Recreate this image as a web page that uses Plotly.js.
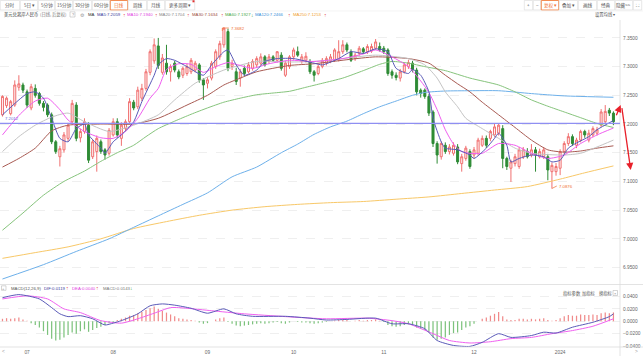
<!DOCTYPE html>
<html><head><meta charset="utf-8">
<script src="https://cdn.plot.ly/plotly-3.0.1.min.js"></script>
<style>html,body{margin:0;padding:0;background:#fff}#c{width:643px;height:356px}</style>
</head><body><div id="c"></div>
<script>
// ---- candle data (index 0..149) ----
const openP = [7.216,7.232,7.218,7.233,7.264,7.268,7.256,7.228,7.262,7.253,7.236,7.233,7.216,7.169,7.143,7.155,7.175,7.204,7.233,7.176,7.187,7.198,7.143,7.152,7.169,7.155,7.149,7.181,7.204,7.175,7.192,7.204,7.238,7.230,7.245,7.262,7.290,7.310,7.336,7.290,7.306,7.291,7.306,7.291,7.285,7.288,7.291,7.294,7.303,7.277,7.271,7.280,7.300,7.317,7.338,7.361,7.300,7.291,7.280,7.297,7.291,7.297,7.303,7.306,7.317,7.309,7.317,7.311,7.320,7.285,7.300,7.317,7.326,7.309,7.311,7.309,7.291,7.288,7.300,7.306,7.310,7.311,7.312,7.326,7.338,7.326,7.314,7.323,7.331,7.326,7.327,7.332,7.335,7.332,7.329,7.291,7.285,7.280,7.291,7.300,7.306,7.294,7.259,7.259,7.248,7.221,7.166,7.143,7.163,7.152,7.149,7.160,7.131,7.140,7.152,7.146,7.149,7.163,7.175,7.175,7.181,7.184,7.192,7.140,7.123,7.131,7.126,7.143,7.152,7.146,7.155,7.143,7.143,7.143,7.117,7.117,7.123,7.152,7.166,7.178,7.163,7.172,7.187,7.172,7.181,7.184,7.198,7.204,7.224,7.219];
const highP = [7.250,7.248,7.242,7.276,7.285,7.272,7.260,7.270,7.269,7.256,7.240,7.236,7.220,7.172,7.162,7.186,7.202,7.242,7.238,7.192,7.210,7.203,7.173,7.180,7.173,7.158,7.193,7.210,7.210,7.203,7.208,7.245,7.242,7.265,7.270,7.296,7.330,7.349,7.350,7.322,7.338,7.304,7.310,7.295,7.300,7.305,7.315,7.310,7.306,7.280,7.282,7.310,7.330,7.345,7.3682,7.366,7.312,7.298,7.296,7.302,7.308,7.313,7.318,7.323,7.320,7.322,7.320,7.327,7.325,7.310,7.320,7.333,7.335,7.322,7.325,7.313,7.294,7.304,7.315,7.318,7.322,7.332,7.346,7.346,7.342,7.330,7.324,7.336,7.334,7.339,7.340,7.348,7.342,7.336,7.332,7.295,7.290,7.296,7.307,7.312,7.310,7.298,7.262,7.262,7.252,7.224,7.170,7.170,7.168,7.165,7.168,7.165,7.148,7.162,7.156,7.160,7.176,7.180,7.180,7.190,7.200,7.201,7.198,7.143,7.138,7.148,7.160,7.160,7.158,7.165,7.160,7.157,7.160,7.148,7.133,7.132,7.156,7.170,7.184,7.182,7.176,7.190,7.190,7.190,7.196,7.195,7.226,7.233,7.228,7.222];
const lowP = [7.213,7.228,7.215,7.230,7.258,7.254,7.228,7.224,7.246,7.232,7.222,7.212,7.165,7.148,7.126,7.150,7.170,7.200,7.170,7.168,7.183,7.132,7.139,7.117,7.148,7.138,7.145,7.178,7.176,7.162,7.188,7.200,7.224,7.226,7.240,7.258,7.285,7.305,7.296,7.286,7.286,7.274,7.290,7.278,7.280,7.284,7.287,7.290,7.272,7.242,7.262,7.276,7.296,7.312,7.333,7.292,7.294,7.268,7.265,7.284,7.288,7.293,7.299,7.302,7.300,7.305,7.308,7.307,7.293,7.282,7.296,7.312,7.317,7.305,7.307,7.287,7.274,7.285,7.297,7.302,7.306,7.308,7.309,7.322,7.325,7.308,7.310,7.319,7.322,7.322,7.324,7.329,7.326,7.322,7.284,7.279,7.276,7.274,7.288,7.296,7.290,7.250,7.246,7.244,7.214,7.160,7.131,7.138,7.148,7.147,7.145,7.130,7.117,7.136,7.122,7.140,7.145,7.160,7.158,7.170,7.177,7.180,7.123,7.120,7.099,7.126,7.122,7.139,7.140,7.142,7.117,7.140,7.139,7.102,7.0876,7.110,7.111,7.148,7.162,7.162,7.158,7.168,7.176,7.168,7.177,7.180,7.195,7.200,7.214,7.198];
const closeP = [7.248,7.245,7.239,7.268,7.270,7.259,7.233,7.265,7.250,7.236,7.229,7.216,7.169,7.152,7.157,7.181,7.198,7.236,7.175,7.187,7.204,7.137,7.169,7.175,7.152,7.146,7.189,7.204,7.181,7.198,7.204,7.239,7.228,7.259,7.262,7.291,7.326,7.338,7.302,7.315,7.291,7.300,7.294,7.282,7.297,7.300,7.311,7.306,7.277,7.268,7.277,7.306,7.326,7.340,7.367,7.297,7.306,7.274,7.291,7.288,7.303,7.309,7.314,7.317,7.303,7.317,7.311,7.326,7.297,7.306,7.317,7.329,7.320,7.317,7.318,7.291,7.285,7.300,7.311,7.314,7.317,7.329,7.326,7.338,7.329,7.311,7.320,7.332,7.326,7.335,7.335,7.343,7.329,7.326,7.288,7.285,7.281,7.291,7.303,7.307,7.294,7.256,7.253,7.248,7.219,7.166,7.146,7.166,7.152,7.160,7.163,7.134,7.143,7.158,7.126,7.155,7.172,7.175,7.163,7.187,7.195,7.198,7.140,7.126,7.134,7.143,7.155,7.155,7.143,7.155,7.146,7.152,7.155,7.120,7.128,7.126,7.152,7.166,7.178,7.166,7.172,7.187,7.181,7.184,7.192,7.190,7.221,7.222,7.219,7.204];

// ---- moving averages (read at sample candles) ----
const ma5Idx = [0,4,6,8,10,12,14,16,18,20,21,24,25,27,29,32,34,37,38,40,42,45,49,51,54,55,57,59,62,64,67,71,76,78,82,85,88,91,94,96,99,100,102,104,105,107,108,111,114,115,118,120,121,123,124,126,129,132,134,136,138,140,143,145,149];
const ma5Val = [7.216,7.242,7.253,7.256,7.245,7.210,7.175,7.169,7.192,7.200,7.181,7.158,7.149,7.169,7.181,7.204,7.239,7.285,7.303,7.314,7.311,7.300,7.285,7.303,7.326,7.329,7.303,7.285,7.294,7.309,7.314,7.314,7.306,7.303,7.314,7.326,7.323,7.331,7.326,7.297,7.288,7.295,7.285,7.256,7.210,7.169,7.158,7.155,7.146,7.140,7.158,7.175,7.184,7.163,7.134,7.140,7.146,7.143,7.134,7.137,7.158,7.167,7.178,7.190,7.206];
const ma10Idx = [0,4,8,11,14,16,20,24,27,30,33,36,38,40,43,46,49,52,55,58,61,65,70,76,83,88,91,95,99,102,104,106,108,110,112,114,117,121,125,129,133,137,141,145,149];
const ma10Val = [7.181,7.215,7.240,7.245,7.225,7.207,7.187,7.176,7.175,7.187,7.210,7.245,7.262,7.295,7.305,7.304,7.290,7.300,7.307,7.302,7.297,7.305,7.311,7.309,7.314,7.322,7.329,7.317,7.300,7.275,7.255,7.225,7.190,7.165,7.152,7.149,7.149,7.166,7.163,7.149,7.140,7.146,7.166,7.181,7.193];
const ma20Idx = [0,4,8,12,16,20,26,32,38,42,47,54,62,70,76,83,91,99,103,106,108,111,113,117,121,125,129,137,141,145,149];
const ma20Val = [7.152,7.178,7.198,7.212,7.219,7.204,7.187,7.198,7.216,7.242,7.271,7.294,7.309,7.308,7.309,7.314,7.320,7.314,7.303,7.280,7.256,7.230,7.210,7.192,7.175,7.158,7.149,7.146,7.149,7.160,7.172];
const ma30Idx = [0,4,8,12,16,24,32,38,45,50,54,58,62,70,76,84,91,99,104,108,111,114,117,121,125,129,133,137,141,145,149];
const ma30Val = [7.125,7.140,7.158,7.188,7.198,7.200,7.200,7.210,7.233,7.250,7.268,7.280,7.291,7.302,7.305,7.312,7.317,7.314,7.306,7.285,7.270,7.256,7.238,7.216,7.194,7.172,7.155,7.151,7.153,7.158,7.162];
const ma60Idx = [0,5,10,15,20,24,28,32,35,38,42,46,50,54,58,62,66,70,74,78,83,88,92,95,99,103,108,114,121,125,129,133,137,141,145,149];
const ma60Val = [7.015,7.045,7.076,7.100,7.118,7.135,7.150,7.163,7.178,7.192,7.205,7.217,7.228,7.238,7.245,7.251,7.254,7.257,7.264,7.271,7.280,7.293,7.304,7.309,7.306,7.300,7.293,7.280,7.268,7.256,7.242,7.231,7.221,7.211,7.201,7.194];
const ma120Idx = [0,10,18,26,32,38,44,50,56,62,68,72,76,80,84,88,92,96,100,103,108,114,121,129,137,149];
const ma120Val = [6.930,6.955,6.978,7.000,7.020,7.040,7.060,7.080,7.108,7.125,7.150,7.165,7.182,7.195,7.205,7.218,7.230,7.240,7.250,7.255,7.2575,7.258,7.258,7.253,7.249,7.2466];
const ma250Idx = [0,8,16,24,32,40,48,56,64,72,80,88,96,104,112,120,128,136,142,149];
const ma250Val = [6.966,6.976,6.986,7.000,7.018,7.030,7.041,7.050,7.056,7.060,7.063,7.065,7.069,7.073,7.079,7.085,7.091,7.104,7.115,7.127];

// ---- MACD ----
const difIdx = [0,4,9,12,14,16,19,22,25,27,29,33,36,39,42,46,50,54,57,61,69,75,79,84,91,95,99,103,106,110,114,117,121,124,129,132,135,139,144,148,149];
const difVal = [0.038,0.043,0.036,0.022,0.012,0.0075,0.009,0.004,-0.006,-0.003,0.001,0.012,0.025,0.028,0.026,0.021,0.013,0.020,0.012,0.008,0.008,0.005,0.002,0.003,0.005,-0.004,-0.004,-0.012,-0.031,-0.039,-0.0405,-0.034,-0.020,-0.026,-0.023,-0.0176,-0.019,-0.0096,-0.0016,0.0075,0.0119];
const deaIdx = [0,6,11,15,19,24,29,33,37,41,45,51,59,69,79,89,95,99,105,109,114,119,124,129,134,139,144,149];
const deaVal = [0.036,0.041,0.036,0.020,0.014,0.001,-0.003,0.004,0.013,0.022,0.021,0.017,0.012,0.0075,0.004,0.005,0.001,-0.004,-0.020,-0.031,-0.035,-0.033,-0.028,-0.026,-0.020,-0.015,-0.008,0.004];
const macdHist = [0.004,0.005,0.004,0.005,0.006,0.003,0.001,-0.003,-0.006,-0.010,-0.016,-0.022,-0.028,-0.031,-0.030,-0.026,-0.022,-0.018,-0.020,-0.016,-0.013,-0.017,-0.014,-0.011,-0.009,-0.006,-0.003,-0.001,0.002,0.004,0.006,0.009,0.010,0.013,0.015,0.018,0.021,0.024,0.020,0.017,0.014,0.011,0.008,0.005,0.004,0.003,0.002,0.001,-0.002,-0.004,-0.003,0.000,0.003,0.005,0.006,-0.001,-0.004,-0.007,-0.008,-0.007,-0.006,-0.005,-0.004,-0.003,-0.004,-0.003,-0.002,-0.001,-0.003,-0.004,-0.002,0.000,-0.001,-0.002,-0.002,-0.003,-0.004,-0.003,-0.002,-0.001,0.000,0.001,0.002,0.003,0.002,0.000,0.001,0.002,0.001,0.002,0.002,0.003,0.001,-0.001,-0.006,-0.008,-0.009,-0.008,-0.006,-0.005,-0.005,-0.010,-0.012,-0.014,-0.018,-0.026,-0.030,-0.028,-0.026,-0.022,-0.019,-0.018,-0.014,-0.010,-0.008,-0.004,0.000,0.004,0.006,0.009,0.012,0.015,0.008,0.003,0.002,0.002,0.004,0.004,0.003,0.004,0.003,0.004,0.005,0.002,0.001,0.002,0.005,0.008,0.010,0.009,0.009,0.011,0.010,0.010,0.011,0.010,0.013,0.014,0.013,0.0143];

// ---- labels ----
const monthTickIdx = [6,27,50,71,93,115,136];
const monthTickText = ['07','08','09','10','11','12','2024'];
const priceTicks = [6.95,7.00,7.05,7.10,7.15,7.20,7.25,7.30,7.35];
const macdTicks = [-0.04,-0.02,0,0.02,0.04];
const refLineValue = 7.2012;
const highMark = {idx:54, text:'7.3682'};
const lowMark = {idx:134, text:'7.0876'};

const idx = closeP.map((_, i) => i);

// pixel helpers (plot area x 0..620, y 20..347)
const PW = 620, PH = 327, BOTTOM = 347;
const px = v => v / PW;
const py = v => (BOTTOM - v) / PH;

const FONT = 'Liberation Sans, Noto Sans CJK SC, sans-serif';
const CJK = 'Noto Sans CJK SC, sans-serif';
const FS = 4.3;
const AXFS = 4.8;

const traces = [];
function maTrace(xs, ys, color) {
  return {type:'scatter', mode:'lines', x:xs, y:ys, xaxis:'x', yaxis:'y',
          line:{color:color, width:1, shape:'spline', smoothing:0.6}, hoverinfo:'skip'};
}
traces.push(maTrace(ma250Idx, ma250Val, '#f8c868'));
traces.push(maTrace(ma120Idx, ma120Val, '#6db0ea'));
traces.push(maTrace(ma60Idx, ma60Val, '#86c47c'));
traces.push(maTrace(ma30Idx, ma30Val, '#a85a52'));
traces.push(maTrace(ma20Idx, ma20Val, '#c4c4c4'));
traces.push({type:'candlestick', x:idx, open:openP, high:highP, low:lowP, close:closeP,
  xaxis:'x', yaxis:'y', whiskerwidth:0,
  increasing:{line:{color:'#f07070', width:1}, fillcolor:'#fff2f2'},
  decreasing:{line:{color:'#2e8b35', width:1}, fillcolor:'#2e8b35'},
  hoverinfo:'skip'});
traces.push(maTrace(ma10Idx, ma10Val, '#f05cf0'));
traces.push(maTrace(ma5Idx, ma5Val, '#5a5ab8'));

traces.push({type:'bar', x:idx, y:macdHist, xaxis:'x2', yaxis:'y2', width:0.3,
  marker:{color:macdHist.map(v => v >= 0 ? '#f08a8a' : '#7cc27c'), line:{width:0}}, hoverinfo:'skip'});
traces.push({type:'scatter', mode:'lines', x:deaIdx, y:deaVal, xaxis:'x2', yaxis:'y2',
  line:{color:'#f060f0', width:1, shape:'spline', smoothing:0.6}, hoverinfo:'skip'});
traces.push({type:'scatter', mode:'lines', x:difIdx, y:difVal, xaxis:'x2', yaxis:'y2',
  line:{color:'#5a5ab8', width:1, shape:'spline', smoothing:0.6}, hoverinfo:'skip'});

const ann = [];
const shapes = [];
function txt(x, y, s, color, size, opts) {
  const fam = (opts && opts.cjk) ? CJK : FONT;
  const o = Object.assign({}, opts||{}); delete o.cjk;
  ann.push(Object.assign({xref:'paper', yref:'paper', x:px(x), y:py(y), text:s, showarrow:false,
    xanchor:'left', yanchor:'middle', font:{family:fam, size:size||FS, color:color||'#333'}}, o));
}
function rect(x0, y0, x1, y1, line, fill, w) {
  shapes.push({type:'rect', xref:'paper', yref:'paper', x0:px(x0), x1:px(x1), y0:py(y0), y1:py(y1),
    line:{color:line, width:w===undefined?0.6:w}, fillcolor:fill||'rgba(0,0,0,0)', layer:'above'});
}
function seg(x0, y0, x1, y1, color, w) {
  shapes.push({type:'line', xref:'paper', yref:'paper', x0:px(x0), x1:px(x1), y0:py(y0), y1:py(y1),
    line:{color:color, width:w||0.7}, layer:'above'});
}

// toolbar
const leftBtns = [[0,20,'分时'],[20,38,'5日 ▾'],[38,55,'5分钟'],[55,73,'15分钟'],[73,92,'30分钟'],[92,110,'60分钟'],[110,128,'日线',1],[128,147,'周线'],[147,165,'月线'],[165,195,'更多周期 ▾']];
const rightBtns = [[524,533,'+'],[533,541,'−'],[541,559,'复权 ▾',1],[559,578,'叠加 ▾'],[578,597,'画线'],[597,615,'经典'],[615,633,'隐藏>>'],[633,642,'⛶']];
leftBtns.concat(rightBtns).forEach(b => {
  rect(b[0]+0.3, 0.5, b[1]-0.3, 10, b[3] ? '#f08040' : '#d8d8d8', '#ffffff', b[3] ? 0.9 : 0.6);
  txt((b[0]+b[1])/2, 5.4, b[2], b[3] ? '#f07030' : '#555', 4.6, {xanchor:'center', cjk:true});
});
rect(192.5, 0.3, 194.5, 2.3, '#e03030', '#e03030', 0);

// main legend row
txt(2, 14.5, '美元兑离岸人民币', '#333', FS, {cjk:true});
txt(38, 14.5, '(日线, 后复权)', '#777', FS, {cjk:true});
rect(70, 11.8, 75, 17, '#aaa', null, 0.5);
txt(72.5, 14.5, '?', '#888', 3.8, {xanchor:'center'});
txt(78, 14.5, '⚙', '#999', 5);
txt(86, 14.5, 'MA', '#333', FS);
const maLegend = [[95,'MA5:7.2059','#3a3a9a','↑','#e04040',120.5],[125,'MA10:7.1940','#e040e0','↑','#e04040',152.5],
  [157,'MA20:7.1704','#888','↑','#e04040',185],[190,'MA30:7.1634','#9a4a3a','↑','#e04040',218.5],
  [223,'MA60:7.1927','#4aa84a','↓','#2e9a3a',248.5],[253,'MA120:7.2466','#3a90d8','↑','#e04040',286],
  [291,'MA250:7.1253','#f0a030','↑','#e04040',322]];
maLegend.forEach(m => { txt(m[0], 14.5, m[1], m[2], FS); txt(m[5], 14.5, m[3], m[4], 5); });
txt(593, 14.5, '设置均线 ▾', '#555', FS, {cjk:true});

// reference line label
txt(3, 118.5, '7.2012', '#6a6ad8', FS);

// high / low marks
const hx = 2.4 + highMark.idx*4.1, lx = 2.4 + lowMark.idx*4.1;
seg(hx-1.5, 31, hx-1.5, 28, '#f07030', 0.7); seg(hx-1.5, 28, hx+5, 28, '#f07030', 0.7);
txt(hx+5.5, 28.5, highMark.text, '#f07030', FS);
seg(lx, 188.5, lx+5, 186, '#f07030', 0.7);
txt(lx+5.5, 186, lowMark.text, '#f07030', FS);

// red drawn arrows
ann.push({xref:'paper', yref:'paper', x:px(620.7), y:py(105), ax:-5, ay:11.7, axref:'pixel', ayref:'pixel',
  showarrow:true, arrowhead:2, arrowsize:1.1, arrowwidth:1.3, arrowcolor:'#e8202a', text:''});
ann.push({xref:'paper', yref:'paper', x:px(630.7), y:py(170), ax:-9, ay:-63.3, axref:'pixel', ayref:'pixel',
  showarrow:true, arrowhead:2, arrowsize:1.1, arrowwidth:1.3, arrowcolor:'#e8202a', text:''});

// MACD legend row
rect(1.5, 285.8, 6, 290.3, '#aaa', null, 0.5);
txt(3.75, 288, '+', '#888', 4, {xanchor:'center'});
txt(9, 288, 'MACD(12,26,9)', '#555', FS);
txt(42, 288, 'DIF:0.0119', '#3a3a9a', FS); txt(64, 288, '↑', '#e04040', 5);
txt(70, 288, 'DEA:0.0040', '#e040e0', FS); txt(93.5, 288, '↑', '#e04040', 5);
txt(101, 288, 'MACD:0.0143', '#777', FS); txt(128, 288, '↓', '#2e9a3a', 5);
txt(561, 293, '指标参数', '#555', FS, {cjk:true});
txt(580, 293, '加指标', '#555', FS, {cjk:true});
txt(597, 293, '换指标', '#555', FS, {cjk:true});
rect(613, 290.5, 617.5, 295.5, '#aaa', null, 0.5);
txt(615.2, 293, '×', '#888', 4, {xanchor:'center'});

// bottom scroll arrows
txt(3, 351.5, '<', '#999', AXFS, {xanchor:'center'});
txt(636, 351.5, '>', '#999', AXFS, {xanchor:'center'});

// frame lines
seg(620, 20, 620, 356, '#dcdcdc', 0.8);
seg(0, 284.5, 643, 284.5, '#dcdcdc', 0.8);
seg(0, 347, 643, 347, '#dcdcdc', 0.8);
seg(0, 11, 643, 11, '#ececec', 0.6);

// 7.2012 horizontal line
shapes.push({type:'line', xref:'paper', yref:'y', x0:0, x1:1, y0:refLineValue, y1:refLineValue,
  line:{color:'#8f8ff2', width:1.4}, layer:'above'});

const layout = {
  width:643, height:356, margin:{l:0, r:23, t:20, b:9},
  paper_bgcolor:'#ffffff', plot_bgcolor:'#ffffff',
  showlegend:false, hovermode:false, dragmode:false,
  font:{family:FONT, size:FS, color:'#666'},
  xaxis:{domain:[0,1], range:[-0.6,150.6], anchor:'y', showticklabels:false, showgrid:false, zeroline:false,
         rangeslider:{visible:false}, fixedrange:true, showline:false},
  yaxis:{domain:[py(284), 1], range:[6.9213, 7.3812], side:'right', tickvals:priceTicks, tickformat:'.4f',
         showgrid:true, gridcolor:'#e4e4e4', griddash:'dash', gridwidth:0.6, zeroline:false, ticks:'',
         ticklabelstandoff:2, tickfont:{size:AXFS, color:'#666', family:FONT}, fixedrange:true},
  xaxis2:{domain:[0,1], range:[-0.6,150.6], anchor:'y2', tickvals:monthTickIdx, ticktext:monthTickText,
          showgrid:false, zeroline:false, ticks:'', tickfont:{size:AXFS, color:'#666', family:FONT}, ticklabelstandoff:1, fixedrange:true},
  yaxis2:{domain:[0, py(292)], range:[-0.0415, 0.0472], side:'right', tickvals:macdTicks, tickformat:'.4f',
          showgrid:true, gridcolor:'#e4e4e4', griddash:'dash', gridwidth:0.6, zeroline:false, ticks:'',
          ticklabelstandoff:2, tickfont:{size:AXFS, color:'#666', family:FONT}, fixedrange:true},
  bargap:0.7,
  annotations:ann, shapes:shapes
};
Plotly.newPlot('c', traces, layout, {staticPlot:true, displayModeBar:false});
</script>
</body></html>
